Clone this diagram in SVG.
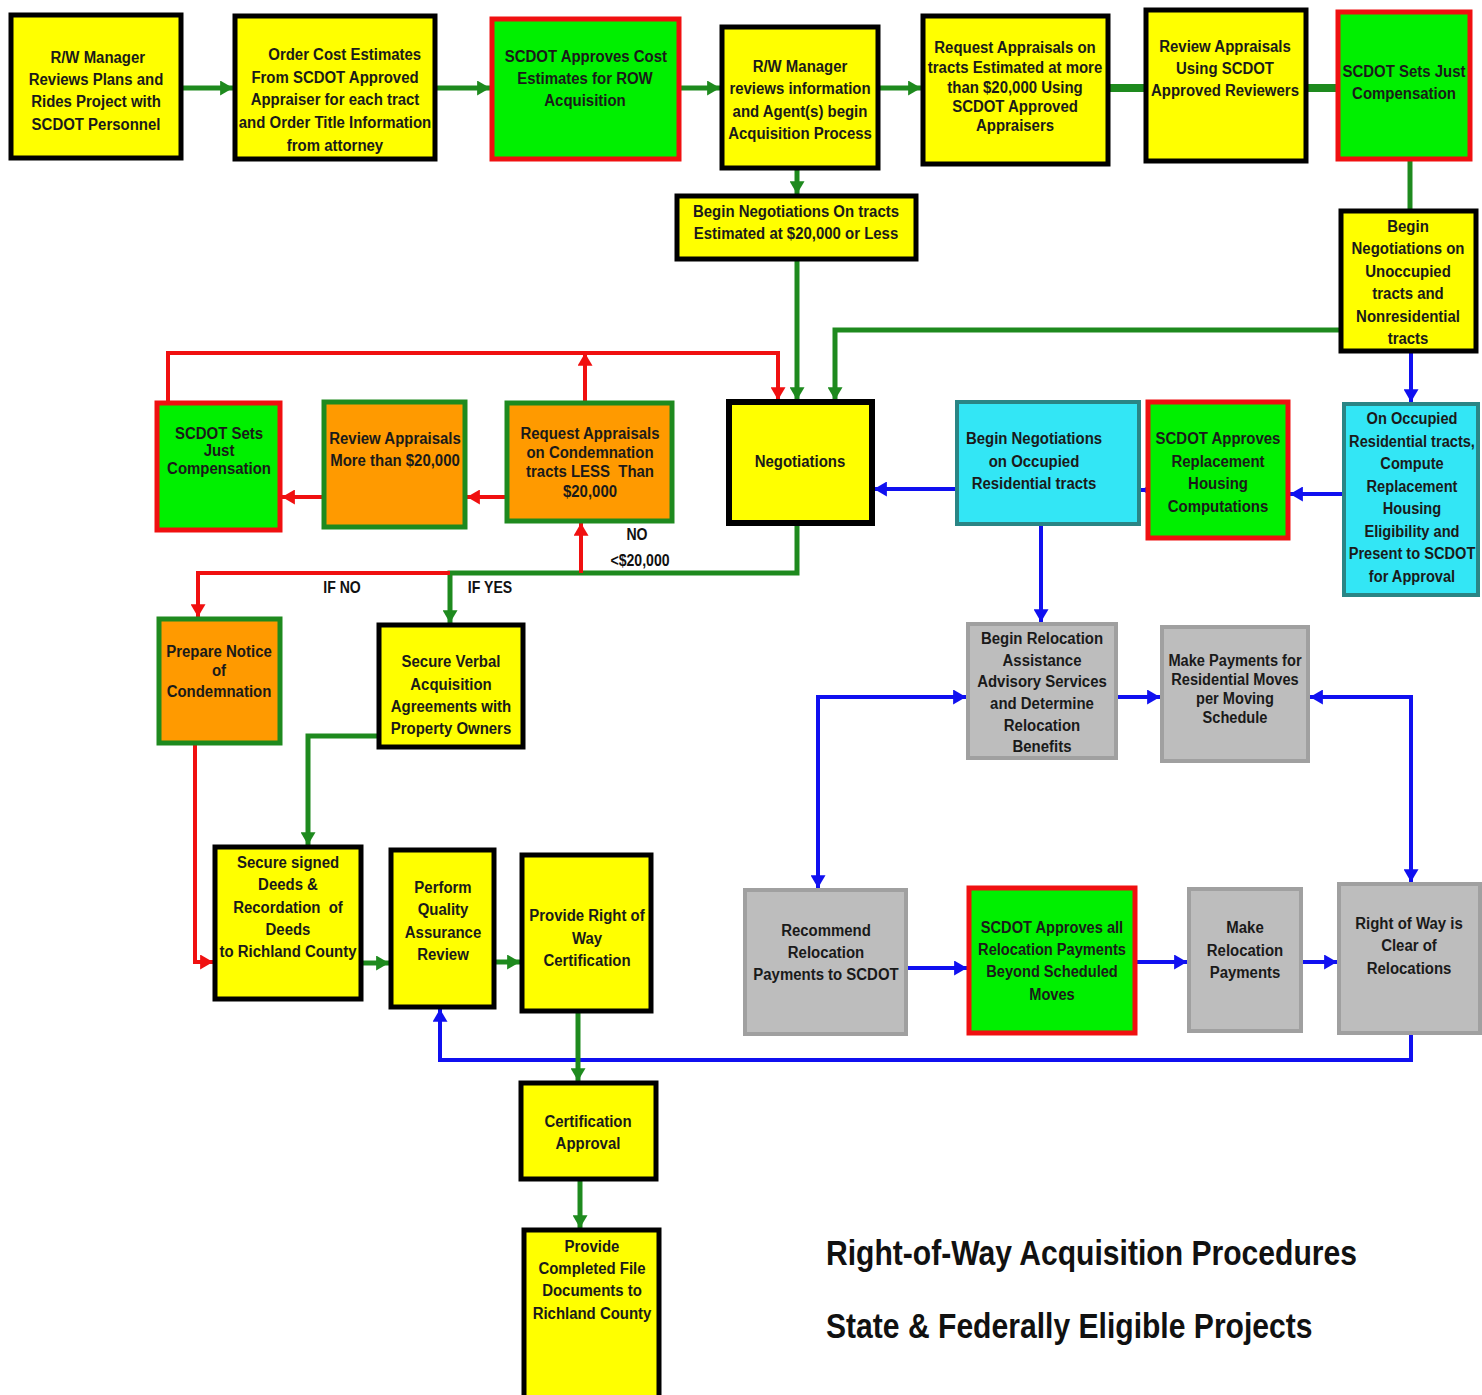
<svg xmlns="http://www.w3.org/2000/svg" width="1482" height="1395" viewBox="0 0 1482 1395">
<style>
text{font-family:"Liberation Sans",Arial,sans-serif;font-weight:bold;font-size:17px;fill:#1a1a1a;text-anchor:middle}
.y{fill:#FFFF00;stroke:#000;stroke-width:5}
.g{fill:#00F000;stroke:#F01010;stroke-width:5}
.o{fill:#FF9A00;stroke:#1E8A1E;stroke-width:5}
.c{fill:#33E6F5;stroke:#2A8585;stroke-width:4}
.gr{fill:#BDBDBD;stroke:#A0A0A0;stroke-width:4}
.lg{fill:none;stroke:#1E8A1E;stroke-width:5}
.lr{fill:none;stroke:#F01010;stroke-width:4}
.lb{fill:none;stroke:#1010F0;stroke-width:4}
.title{font-size:35px;text-anchor:start;fill:#111}
.lbl{font-size:16px;fill:#111}
</style>
<defs>
<marker id="ag" viewBox="0 0 12 14" refX="12" refY="7" markerWidth="13" markerHeight="15" markerUnits="userSpaceOnUse" orient="auto-start-reverse"><path d="M0,0L12,7L0,14z" fill="#1E8A1E"/></marker>
<marker id="ar" viewBox="0 0 12 14" refX="12" refY="7" markerWidth="13" markerHeight="15" markerUnits="userSpaceOnUse" orient="auto-start-reverse"><path d="M0,0L12,7L0,14z" fill="#F01010"/></marker>
<marker id="ab" viewBox="0 0 12 14" refX="12" refY="7" markerWidth="13" markerHeight="15" markerUnits="userSpaceOnUse" orient="auto-start-reverse"><path d="M0,0L12,7L0,14z" fill="#1010F0"/></marker>
</defs>
<rect width="1482" height="1395" fill="#fff"/>

<g id="connectors">
<path class="lg" d="M183,88H233" marker-end="url(#ag)"/>
<path class="lg" d="M437,88H490" marker-end="url(#ag)"/>
<path class="lg" d="M681,88H720" marker-end="url(#ag)"/>
<path class="lg" d="M880,88H921" marker-end="url(#ag)"/>
<path d="M1110,88H1144" stroke="#1E8A1E" stroke-width="8" fill="none"/>
<path d="M1308,88H1336" stroke="#1E8A1E" stroke-width="8" fill="none"/>
<path class="lg" d="M797,170V194" marker-end="url(#ag)"/>
<path class="lg" d="M797,261V400" marker-end="url(#ag)"/>
<path class="lg" d="M1410,161V209"/>
<path class="lg" d="M1339,330H835V400" marker-end="url(#ag)"/>
<path class="lb" d="M1411,353V402" marker-end="url(#ab)"/>
<path class="lb" d="M1342,494H1290" marker-end="url(#ab)"/>
<path class="lb" d="M1146,490H1141" marker-end="url(#ab)"/>
<path class="lb" d="M955,489H874" marker-end="url(#ab)"/>
<path class="lb" d="M1041,526V622" marker-end="url(#ab)"/>
<path class="lb" d="M1118,697H1160" marker-end="url(#ab)"/>
<path class="lb" d="M818,888V697H966" marker-end="url(#ab)" marker-start="url(#ab)"/>
<path class="lb" d="M1310,697H1411V882" marker-end="url(#ab)" marker-start="url(#ab)"/>
<path class="lb" d="M908,968H967" marker-end="url(#ab)"/>
<path class="lb" d="M1137,962H1187" marker-end="url(#ab)"/>
<path class="lb" d="M1303,962H1337" marker-end="url(#ab)"/>
<path class="lb" d="M1411,1035V1060H440V1009" marker-end="url(#ab)"/>
<path class="lr" d="M585,401V353" marker-end="url(#ar)"/>
<path class="lr" d="M168,401V353H778V400" marker-end="url(#ar)"/>
<path class="lr" d="M505,497H467" marker-end="url(#ar)"/>
<path class="lr" d="M322,497H282" marker-end="url(#ar)"/>
<path class="lg" d="M797,525V573H450V623" marker-end="url(#ag)"/>
<path class="lr" d="M450,573H198V617" marker-end="url(#ar)"/>
<path class="lr" d="M581,573V523" marker-end="url(#ar)"/>
<path class="lr" d="M195,745V962H213" marker-end="url(#ar)"/>
<path class="lg" d="M377,736H308V845" marker-end="url(#ag)"/>
<path class="lg" d="M363,963H389" marker-end="url(#ag)"/>
<path class="lg" d="M496,962H520" marker-end="url(#ag)"/>
<path class="lg" d="M578,1013V1081" marker-end="url(#ag)"/>
<path class="lg" d="M580,1181V1228" marker-end="url(#ag)"/>
</g>

<g id="labels">
<text class="lbl" transform="matrix(.88 0 0 1 342 0)" x="0" y="593">IF NO</text>
<text class="lbl" transform="matrix(.88 0 0 1 490 0)" x="0" y="593">IF YES</text>
<text class="lbl" transform="matrix(.88 0 0 1 637 0)" x="0" y="540">NO</text>
<text class="lbl" transform="matrix(.88 0 0 1 640 0)" x="0" y="566">&lt;$20,000</text>
</g>

<g id="n1"><rect class="y" x="11" y="15" width="170" height="143"/><text transform="matrix(.88 0 0 1 96 0)"><tspan x="2" y="63">R/W Manager</tspan><tspan x="0" y="85">Reviews Plans and</tspan><tspan x="0" y="107">Rides Project with</tspan><tspan x="0" y="130">SCDOT Personnel</tspan></text></g>
<g id="n2"><rect class="y" x="235" y="16" width="200" height="143"/><text transform="matrix(.88 0 0 1 335 0)"><tspan x="11" y="60">Order Cost Estimates</tspan><tspan x="0" y="83">From SCDOT Approved</tspan><tspan x="0" y="105">Appraiser for each tract</tspan><tspan x="0" y="128">and Order Title Information</tspan><tspan x="0" y="151">from attorney</tspan></text></g>
<g id="n3"><rect class="g" x="492" y="19" width="187" height="140"/><text transform="matrix(.88 0 0 1 585 0)"><tspan x="1" y="62">SCDOT Approves Cost</tspan><tspan x="0" y="84">Estimates for ROW</tspan><tspan x="0" y="106">Acquisition</tspan></text></g>
<g id="n4"><rect class="y" x="722" y="27" width="156" height="141"/><text transform="matrix(.88 0 0 1 800 0)"><tspan x="0" y="72">R/W Manager</tspan><tspan x="0" y="94">reviews information</tspan><tspan x="0" y="117">and Agent(s) begin</tspan><tspan x="0" y="139">Acquisition Process</tspan></text></g>
<g id="n5"><rect class="y" x="923" y="16" width="185" height="148"/><text transform="matrix(.88 0 0 1 1015 0)"><tspan x="0" y="53">Request Appraisals on</tspan><tspan x="0" y="73">tracts Estimated at more</tspan><tspan x="0" y="93">than $20,000 Using</tspan><tspan x="0" y="112">SCDOT Approved</tspan><tspan x="0" y="131">Appraisers</tspan></text></g>
<g id="n6"><rect class="y" x="1146" y="10" width="160" height="151"/><text transform="matrix(.88 0 0 1 1225 0)"><tspan x="0" y="52">Review Appraisals</tspan><tspan x="0" y="74">Using SCDOT</tspan><tspan x="0" y="96">Approved Reviewers</tspan></text></g>
<g id="n7"><rect class="g" x="1338" y="12" width="132" height="147"/><text transform="matrix(.88 0 0 1 1404 0)"><tspan x="0" y="77">SCDOT Sets Just</tspan><tspan x="0" y="99">Compensation</tspan></text></g>
<g id="n8"><rect class="y" x="677" y="196" width="239" height="63"/><text transform="matrix(.88 0 0 1 796 0)"><tspan x="0" y="217">Begin Negotiations On tracts</tspan><tspan x="0" y="239">Estimated at $20,000 or Less</tspan></text></g>
<g id="n9"><rect class="y" x="1341" y="211" width="135" height="140"/><text transform="matrix(.88 0 0 1 1408 0)"><tspan x="0" y="232">Begin</tspan><tspan x="0" y="254">Negotiations on</tspan><tspan x="0" y="277">Unoccupied</tspan><tspan x="0" y="299">tracts and</tspan><tspan x="0" y="322">Nonresidential</tspan><tspan x="0" y="344">tracts</tspan></text></g>
<g id="n10"><rect x="729" y="402" width="143" height="121" fill="#FFFF00" stroke="#000" stroke-width="6"/><text transform="matrix(.88 0 0 1 800 0)" x="0" y="467">Negotiations</text></g>
<g id="n11"><rect class="c" x="957" y="402" width="182" height="122"/><text transform="matrix(.88 0 0 1 1034 0)"><tspan x="0" y="444">Begin Negotiations</tspan><tspan x="0" y="467">on Occupied</tspan><tspan x="0" y="489">Residential tracts</tspan></text></g>
<g id="n12"><rect class="g" x="1148" y="402" width="140" height="136"/><text transform="matrix(.88 0 0 1 1218 0)"><tspan x="0" y="444">SCDOT Approves</tspan><tspan x="0" y="467">Replacement</tspan><tspan x="0" y="489">Housing</tspan><tspan x="0" y="512">Computations</tspan></text></g>
<g id="n13"><rect class="c" x="1344" y="404" width="134" height="191"/><text transform="matrix(.86 0 0 1 1412 0)"><tspan x="0" y="424">On Occupied</tspan><tspan x="0" y="447">Residential tracts,</tspan><tspan x="0" y="469">Compute</tspan><tspan x="0" y="492">Replacement</tspan><tspan x="0" y="514">Housing</tspan><tspan x="0" y="537">Eligibility and</tspan><tspan x="0" y="559">Present to SCDOT</tspan><tspan x="0" y="582">for Approval</tspan></text></g>
<g id="n14"><rect class="o" x="507" y="403" width="165" height="118"/><text transform="matrix(.88 0 0 1 590 0)"><tspan x="0" y="439">Request Appraisals</tspan><tspan x="0" y="458">on Condemnation</tspan><tspan x="0" y="477">tracts LESS&#160; Than</tspan><tspan x="0" y="497">$20,000</tspan></text></g>
<g id="n15"><rect class="o" x="324" y="402" width="141" height="125"/><text transform="matrix(.88 0 0 1 395 0)"><tspan x="0" y="444">Review Appraisals</tspan><tspan x="0" y="466">More than $20,000</tspan></text></g>
<g id="n16"><rect class="g" x="157" y="403" width="123" height="127"/><text transform="matrix(.88 0 0 1 219 0)"><tspan x="0" y="439">SCDOT Sets</tspan><tspan x="0" y="456">Just</tspan><tspan x="0" y="474">Compensation</tspan></text></g>
<g id="n17"><rect class="o" x="159" y="619" width="121" height="124"/><text transform="matrix(.88 0 0 1 219 0)"><tspan x="0" y="657">Prepare Notice</tspan><tspan x="0" y="676">of</tspan><tspan x="0" y="697">Condemnation</tspan></text></g>
<g id="n18"><rect class="y" x="379" y="625" width="144" height="122"/><text transform="matrix(.88 0 0 1 451 0)"><tspan x="0" y="667">Secure Verbal</tspan><tspan x="0" y="690">Acquisition</tspan><tspan x="0" y="712">Agreements with</tspan><tspan x="0" y="734">Property Owners</tspan></text></g>
<g id="n19"><rect class="y" x="215" y="847" width="146" height="152"/><text transform="matrix(.88 0 0 1 288 0)"><tspan x="0" y="868">Secure signed</tspan><tspan x="0" y="890">Deeds &amp;</tspan><tspan x="0" y="913">Recordation&#160; of</tspan><tspan x="0" y="935">Deeds</tspan><tspan x="0" y="957">to Richland County</tspan></text></g>
<g id="n20"><rect class="y" x="391" y="850" width="103" height="157"/><text transform="matrix(.88 0 0 1 443 0)"><tspan x="0" y="893">Perform</tspan><tspan x="0" y="915">Quality</tspan><tspan x="0" y="938">Assurance</tspan><tspan x="0" y="960">Review</tspan></text></g>
<g id="n21"><rect class="y" x="522" y="855" width="129" height="156"/><text transform="matrix(.88 0 0 1 587 0)"><tspan x="0" y="921">Provide Right of</tspan><tspan x="0" y="944">Way</tspan><tspan x="0" y="966">Certification</tspan></text></g>
<g id="n22"><rect class="y" x="521" y="1083" width="135" height="96"/><text transform="matrix(.88 0 0 1 588 0)"><tspan x="0" y="1127">Certification</tspan><tspan x="0" y="1149">Approval</tspan></text></g>
<g id="n23"><rect class="y" x="524" y="1230" width="135" height="170"/><text transform="matrix(.88 0 0 1 592 0)"><tspan x="0" y="1252">Provide</tspan><tspan x="0" y="1274">Completed File</tspan><tspan x="0" y="1296">Documents to</tspan><tspan x="0" y="1319">Richland County</tspan></text></g>
<g id="n24"><rect class="gr" x="968" y="624" width="148" height="134"/><text transform="matrix(.88 0 0 1 1042 0)"><tspan x="0" y="644">Begin Relocation</tspan><tspan x="0" y="666">Assistance</tspan><tspan x="0" y="687">Advisory Services</tspan><tspan x="0" y="709">and Determine</tspan><tspan x="0" y="731">Relocation</tspan><tspan x="0" y="752">Benefits</tspan></text></g>
<g id="n25"><rect class="gr" x="1162" y="627" width="146" height="134"/><text transform="matrix(.86 0 0 1 1235 0)"><tspan x="0" y="666">Make Payments for</tspan><tspan x="0" y="685">Residential Moves</tspan><tspan x="0" y="704">per Moving</tspan><tspan x="0" y="723">Schedule</tspan></text></g>
<g id="n26"><rect class="gr" x="745" y="890" width="161" height="144"/><text transform="matrix(.88 0 0 1 826 0)"><tspan x="0" y="936">Recommend</tspan><tspan x="0" y="958">Relocation</tspan><tspan x="0" y="980">Payments to SCDOT</tspan></text></g>
<g id="n27"><rect class="g" x="969" y="888" width="166" height="145"/><text transform="matrix(.86 0 0 1 1052 0)"><tspan x="0" y="933">SCDOT Approves all</tspan><tspan x="0" y="955">Relocation Payments</tspan><tspan x="0" y="977">Beyond Scheduled</tspan><tspan x="0" y="1000">Moves</tspan></text></g>
<g id="n28"><rect class="gr" x="1189" y="889" width="112" height="142"/><text transform="matrix(.88 0 0 1 1245 0)"><tspan x="0" y="933">Make</tspan><tspan x="0" y="956">Relocation</tspan><tspan x="0" y="978">Payments</tspan></text></g>
<g id="n29"><rect class="gr" x="1339" y="884" width="141" height="149"/><text transform="matrix(.88 0 0 1 1409 0)"><tspan x="0" y="929">Right of Way is</tspan><tspan x="0" y="951">Clear of</tspan><tspan x="0" y="974">Relocations</tspan></text></g>

<g id="title">
<text class="title" transform="matrix(.86 0 0 1 826 0)" x="0" y="1265">Right-of-Way Acquisition Procedures</text>
<text class="title" transform="matrix(.86 0 0 1 826 0)" x="0" y="1338">State &amp; Federally Eligible Projects</text>
</g>
</svg>
